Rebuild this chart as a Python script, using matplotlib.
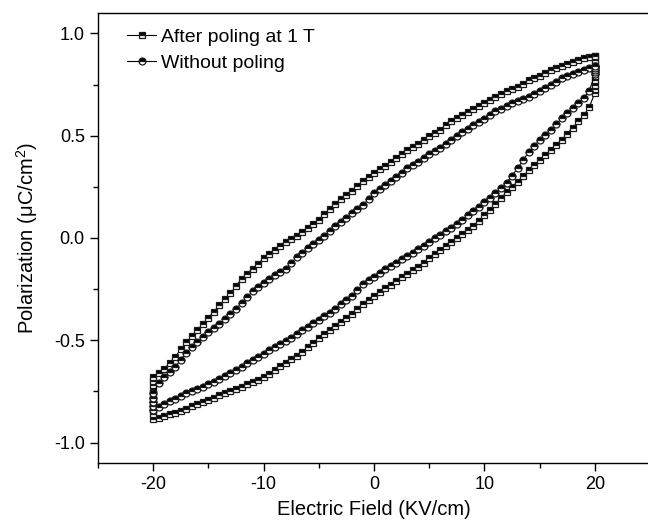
import matplotlib
matplotlib.use('Agg')
import matplotlib.pyplot as plt

plt.rcParams['font.family'] = ['Liberation Sans', 'DejaVu Sans']
plt.rcParams['mathtext.fontset'] = 'custom'
plt.rcParams['mathtext.rm'] = 'Liberation Sans'
plt.rcParams['mathtext.it'] = 'Liberation Sans:italic'
plt.rcParams['axes.unicode_minus'] = False

# --- DATA READ FROM THE P-E LOOPS ---
field = [k / 2 for k in range(-40, 41)]  # kV/cm, -20 ... 20 in 0.5 steps

# After poling at 1 T  (polarization, uC/cm^2)
poled_upper = [-0.68, -0.66, -0.64, -0.61, -0.58, -0.545, -0.51, -0.48, -0.45, -0.42,
               -0.39, -0.36, -0.33, -0.30, -0.27, -0.235, -0.20, -0.175, -0.15, -0.125,
               -0.10, -0.08, -0.06, -0.04, -0.02, -0.005, 0.01, 0.03, 0.05, 0.07,
               0.09, 0.115, 0.14, 0.165, 0.19, 0.21, 0.23, 0.255, 0.28, 0.30,
               0.32, 0.335, 0.35, 0.37, 0.39, 0.41, 0.43, 0.445, 0.46, 0.48,
               0.50, 0.515, 0.53, 0.55, 0.57, 0.585, 0.60, 0.615, 0.63, 0.645,
               0.66, 0.675, 0.69, 0.705, 0.72, 0.73, 0.74, 0.755, 0.77, 0.78,
               0.79, 0.805, 0.82, 0.83, 0.84, 0.85, 0.86, 0.87, 0.88, 0.885,
               0.89]
poled_lower = [-0.885, -0.878, -0.87, -0.862, -0.855, -0.845, -0.835, -0.822, -0.81, -0.80,
               -0.79, -0.78, -0.77, -0.76, -0.75, -0.738, -0.727, -0.716, -0.705, -0.692,
               -0.68, -0.663, -0.645, -0.628, -0.61, -0.593, -0.575, -0.555, -0.535, -0.512,
               -0.49, -0.47, -0.45, -0.43, -0.41, -0.39, -0.37, -0.347, -0.325, -0.305,
               -0.285, -0.265, -0.245, -0.228, -0.21, -0.192, -0.175, -0.158, -0.14, -0.12,
               -0.10, -0.08, -0.06, -0.04, -0.02, 0.0, 0.02, 0.04, 0.06, 0.085,
               0.11, 0.137, 0.165, 0.195, 0.225, 0.25, 0.275, 0.302, 0.33, 0.355,
               0.38, 0.405, 0.43, 0.455, 0.48, 0.51, 0.54, 0.57, 0.60, 0.64,
               0.71]
poled_tip_pos = [0.73, 0.75, 0.77, 0.79, 0.81, 0.83, 0.85, 0.87]          # run at +20 kV/cm
poled_tip_neg = [-0.70, -0.72, -0.74, -0.76, -0.78, -0.80, -0.82, -0.84, -0.86]  # run at -20

# Without poling
unpoled_upper = [-0.76, -0.71, -0.68, -0.655, -0.63, -0.595, -0.56, -0.535, -0.51, -0.485,
                 -0.46, -0.44, -0.42, -0.395, -0.37, -0.345, -0.32, -0.29, -0.26, -0.24,
                 -0.22, -0.20, -0.18, -0.165, -0.15, -0.122, -0.095, -0.072, -0.05, -0.03,
                 -0.01, 0.012, 0.035, 0.058, 0.08, 0.10, 0.12, 0.14, 0.16, 0.19,
                 0.22, 0.24, 0.26, 0.28, 0.30, 0.32, 0.34, 0.355, 0.37, 0.39,
                 0.41, 0.425, 0.44, 0.46, 0.48, 0.50, 0.52, 0.535, 0.55, 0.565,
                 0.58, 0.60, 0.62, 0.632, 0.645, 0.658, 0.67, 0.68, 0.69, 0.705,
                 0.72, 0.735, 0.75, 0.765, 0.78, 0.79, 0.80, 0.81, 0.82, 0.83,
                 0.84]
unpoled_lower = [-0.84, -0.825, -0.81, -0.797, -0.785, -0.772, -0.76, -0.75, -0.74, -0.727,
                 -0.715, -0.702, -0.69, -0.675, -0.66, -0.645, -0.63, -0.612, -0.595, -0.58,
                 -0.565, -0.55, -0.535, -0.52, -0.505, -0.488, -0.47, -0.452, -0.435, -0.418,
                 -0.40, -0.382, -0.365, -0.345, -0.325, -0.305, -0.285, -0.255, -0.225, -0.207,
                 -0.19, -0.17, -0.15, -0.135, -0.12, -0.105, -0.09, -0.072, -0.055, -0.038,
                 -0.02, -0.002, 0.015, 0.032, 0.05, 0.07, 0.09, 0.11, 0.13, 0.152,
                 0.175, 0.197, 0.22, 0.245, 0.27, 0.305, 0.34, 0.38, 0.42, 0.45,
                 0.48, 0.505, 0.53, 0.557, 0.585, 0.61, 0.635, 0.66, 0.685, 0.72,
                 0.80]
unpoled_tip_pos = [0.81, 0.82, 0.83]
unpoled_tip_neg = [-0.78, -0.80, -0.82]


def loop(upper, lower, tip_pos, tip_neg):
    # +Emax -> -Emax along the upper branch, then back along the lower one
    e = field[::-1] + [field[0]] * len(tip_neg) + field + [field[-1]] * (len(tip_pos) + 1)
    p = upper[::-1] + tip_neg + lower + tip_pos + [upper[-1]]
    return e, p


fig = plt.figure(figsize=(6.48, 5.26), dpi=100)
ax = fig.add_axes([0.1512, 0.1198, 0.852, 0.8555])

e1, p1 = loop(poled_upper, poled_lower, poled_tip_pos, poled_tip_neg)
e2, p2 = loop(unpoled_upper, unpoled_lower, unpoled_tip_pos, unpoled_tip_neg)

ax.plot(e1, p1, color='black', lw=0.8, marker='s', markersize=5, fillstyle='top',
        markerfacecolor='black', markerfacecoloralt='white', markeredgecolor='#1a1a1a',
        markeredgewidth=0.9, label='After poling at 1 T')
ax.plot(e2, p2, color='black', lw=0.8, marker='o', markersize=5, fillstyle='top',
        markerfacecolor='black', markerfacecoloralt='white', markeredgecolor='#1a1a1a',
        markeredgewidth=0.9, label='Without poling')

ax.set_xlim(-25, 25)
ax.set_ylim(-1.1, 1.1)
ax.set_xticks([-20, -10, 0, 10, 20])
ax.set_xticks([-25, -15, -5, 5, 15], minor=True)
ax.set_yticks([-1.0, -0.5, 0.0, 0.5, 1.0])
ax.set_yticks([-0.75, -0.25, 0.25, 0.75], minor=True)
ax.set_yticklabels(['-1.0', '-0.5', '0.0', '0.5', '1.0'])
ax.tick_params(which='major', direction='out', length=6, width=1, labelsize=13,
               top=False, right=False)
ax.tick_params(which='minor', direction='out', length=3.5, width=1, top=False, right=False)
ax.spines['right'].set_visible(False)
for s in ['left', 'bottom', 'top']:
    ax.spines[s].set_linewidth(1.0)

ax.set_xlabel('Electric Field (KV/cm)', fontsize=14.5, labelpad=5)
ax.set_ylabel('Polarization (μC/cm$^2$)', fontsize=14.5, labelpad=10)

ax.legend(loc='upper left', bbox_to_anchor=(0.053, 0.966), frameon=False, fontsize=14,
          handlelength=1.5, handletextpad=0.25, labelspacing=0.45, borderpad=0,
          borderaxespad=0, numpoints=1)

fig.savefig('out.png', dpi=100)
